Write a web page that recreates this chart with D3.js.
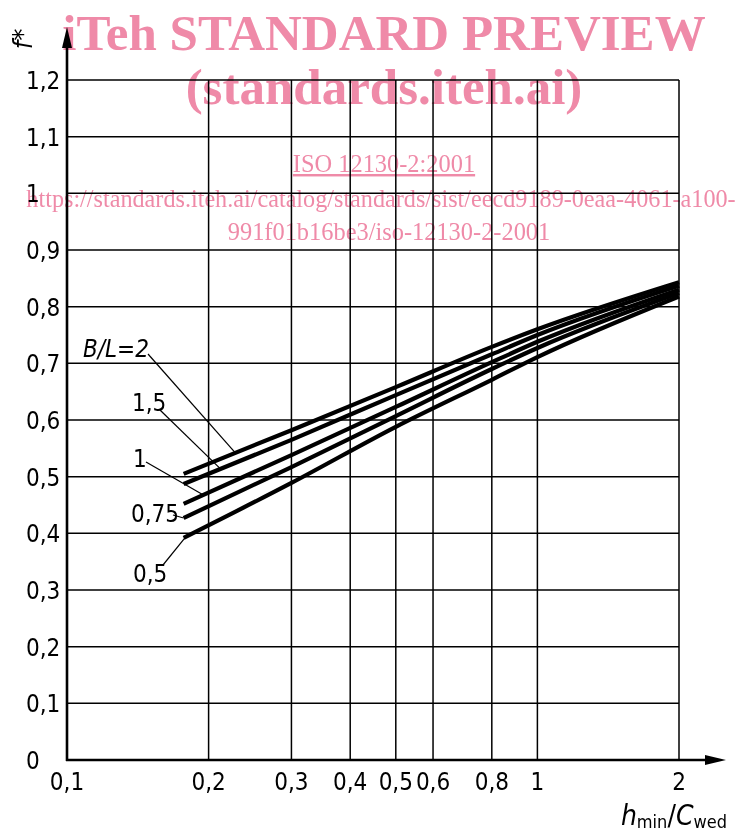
<!DOCTYPE html>
<html>
<head>
<meta charset="utf-8">
<script src="https://cdn.jsdelivr.net/npm/d3@7"></script>
<style>
  body { margin: 0; background: #fff; }
  svg text { font-family: "Liberation Sans Narrow", "DejaVu Sans Condensed", sans-serif; fill: #000; }
  .wm text { font-family: "Liberation Serif", "DejaVu Serif", serif; fill: #ef8aa8; }
</style>
</head>
<body>
<svg id="chart" width="743" height="836"></svg>
<script>
"use strict";

// values
const hRatio = [0.177, 0.3, 0.5, 0.8, 1, 2];
const fBL2   = [0.505, 0.582, 0.658, 0.729, 0.760, 0.843];
const fBL15  = [0.487, 0.565, 0.644, 0.716, 0.750, 0.837];
const fBL1   = [0.452, 0.538, 0.623, 0.702, 0.738, 0.830];
const fBL075 = [0.427, 0.517, 0.607, 0.690, 0.727, 0.824];
const fBL05  = [0.392, 0.489, 0.588, 0.671, 0.711, 0.818];

const seriesNames = ["2", "1,5", "1", "0,75", "0,5"];
const seriesValues = [fBL2, fBL15, fBL1, fBL075, fBL05];

const xGrid = [0.2, 0.3, 0.4, 0.5, 0.6, 0.8, 1, 2];
const xTickLabels = ["0,1", "0,2", "0,3", "0,4", "0,5", "0,6", "0,8", "1", "2"];
const xTickValues = [0.1, 0.2, 0.3, 0.4, 0.5, 0.6, 0.8, 1, 2];
const yTickValues = [0, 0.1, 0.2, 0.3, 0.4, 0.5, 0.6, 0.7, 0.8, 0.9, 1, 1.1, 1.2];

const svg = d3.select("#chart");
const x = d3.scaleLog().domain([0.1, 2]).range([67, 679]);
const y = d3.scaleLinear().domain([0, 1.2]).range([760, 80]);

const comma = v => String(v).replace(".", ",");

// grid
const grid = svg.append("g").attr("stroke", "#000").attr("stroke-width", 1.5);
grid.selectAll("line.v")
  .data(xGrid)
  .enter()
  .append("line")
    .attr("x1", d => x(d)).attr("x2", d => x(d))
    .attr("y1", y(0)).attr("y2", y(1.2));
grid.selectAll("line.h")
  .data(yTickValues.filter(d => d > 0))
  .enter()
  .append("line")
    .attr("x1", x(0.1)).attr("x2", x(2))
    .attr("y1", d => y(d)).attr("y2", d => y(d));

// axes with arrows
svg.append("line")
  .attr("x1", x(0.1)).attr("x2", x(0.1))
  .attr("y1", y(0) + 1).attr("y2", 45)
  .attr("stroke", "#000").attr("stroke-width", 2.6);
svg.append("path")
  .attr("d", `M${x(0.1)},27 L${x(0.1) - 5},48 L${x(0.1) + 5},48 Z`)
  .attr("fill", "#000");
svg.append("line")
  .attr("x1", x(0.1) - 1).attr("x2", 708)
  .attr("y1", y(0)).attr("y2", y(0))
  .attr("stroke", "#000").attr("stroke-width", 2.6);
svg.append("path")
  .attr("d", `M726,${y(0)} L705,${y(0) - 5} L705,${y(0) + 5} Z`)
  .attr("fill", "#000");

// tick labels
svg.append("g")
  .selectAll("text")
  .data(yTickValues)
  .enter()
  .append("text")
    .attr("x", 26)
    .attr("y", d => y(d) + 9)
    .attr("font-size", 24)
    .text(d => comma(d));

svg.append("g")
  .selectAll("text")
  .data(xTickValues)
  .enter()
  .append("text")
    .attr("x", d => x(d))
    .attr("y", 790)
    .attr("text-anchor", "middle")
    .attr("font-size", 24)
    .text((d, i) => xTickLabels[i]);

// axis titles
svg.append("text")
  .attr("transform", "translate(32,39) rotate(-90)")
  .attr("text-anchor", "middle")
  .attr("font-size", 27)
  .attr("font-style", "italic")
  .text("f*");

const xt = svg.append("text")
  .attr("x", 727).attr("y", 825)
  .attr("text-anchor", "end")
  .attr("font-size", 28);
xt.append("tspan").attr("font-style", "italic").text("h");
xt.append("tspan").attr("font-size", 18).attr("dy", 3).text("min");
xt.append("tspan").attr("dy", -3).text("/");
xt.append("tspan").attr("font-style", "italic").text("C");
xt.append("tspan").attr("font-size", 18).attr("dy", 3).text("wed");

// curves
const line = d3.line()
  .x((d, i) => x(hRatio[i]))
  .y(d => y(d))
  .curve(d3.curveMonotoneX);

svg.append("g")
  .selectAll("path")
  .data(seriesValues)
  .enter()
  .append("path")
    .attr("d", line)
    .attr("fill", "none")
    .attr("stroke", "#000")
    .attr("stroke-width", 4.2);

// curve labels with leader lines
const labels = [
  { i: 0, text: "B/L=2", tx: 83, ty: 357, lx: 148, ly: 354, at: 0.228, italic: true },
  { i: 1, text: "1,5", tx: 132, ty: 411, lx: 160, ly: 410, at: 0.212 },
  { i: 2, text: "1", tx: 133, ty: 467, lx: 146, ly: 462, at: 0.195 },
  { i: 3, text: "0,75", tx: 131, ty: 522, lx: 173, ly: 515, at: 0.177 },
  { i: 4, text: "0,5", tx: 133, ty: 582, lx: 163, ly: 565, at: 0.179 }
];
const onCurve = (i, v) => d3.scaleLog().domain(hRatio).range(seriesValues[i])(v);

const lab = svg.append("g");
lab.selectAll("line")
  .data(labels)
  .enter()
  .append("line")
    .attr("x1", d => d.lx).attr("y1", d => d.ly)
    .attr("x2", d => x(d.at)).attr("y2", d => y(onCurve(d.i, d.at)))
    .attr("stroke", "#000").attr("stroke-width", 1.2);
lab.selectAll("text")
  .data(labels)
  .enter()
  .append("text")
    .attr("x", d => d.tx).attr("y", d => d.ty)
    .attr("font-size", 24)
    .attr("font-style", d => d.italic ? "italic" : null)
    .text(d => d.text);

// watermark overlay
const wm = svg.append("g").attr("class", "wm").style("mix-blend-mode", "multiply");
wm.append("text")
  .attr("x", 384).attr("y", 50).attr("text-anchor", "middle")
  .attr("font-size", 51).attr("font-weight", "bold")
  .text("iTeh STANDARD PREVIEW");
wm.append("text")
  .attr("x", 384).attr("y", 104).attr("text-anchor", "middle")
  .attr("font-size", 51).attr("font-weight", "bold")
  .text("(standards.iteh.ai)");
wm.append("text")
  .attr("x", 384).attr("y", 172).attr("text-anchor", "middle")
  .attr("font-size", 24.4).attr("text-decoration", "underline")
  .text("ISO 12130-2:2001");
wm.append("text")
  .attr("x", 381).attr("y", 207).attr("text-anchor", "middle")
  .attr("font-size", 24.2)
  .text("https://standards.iteh.ai/catalog/standards/sist/eecd9189-0eaa-4061-a100-");
wm.append("text")
  .attr("x", 389).attr("y", 240).attr("text-anchor", "middle")
  .attr("font-size", 24.4)
  .text("991f01b16be3/iso-12130-2-2001");
</script>
</body>
</html>
